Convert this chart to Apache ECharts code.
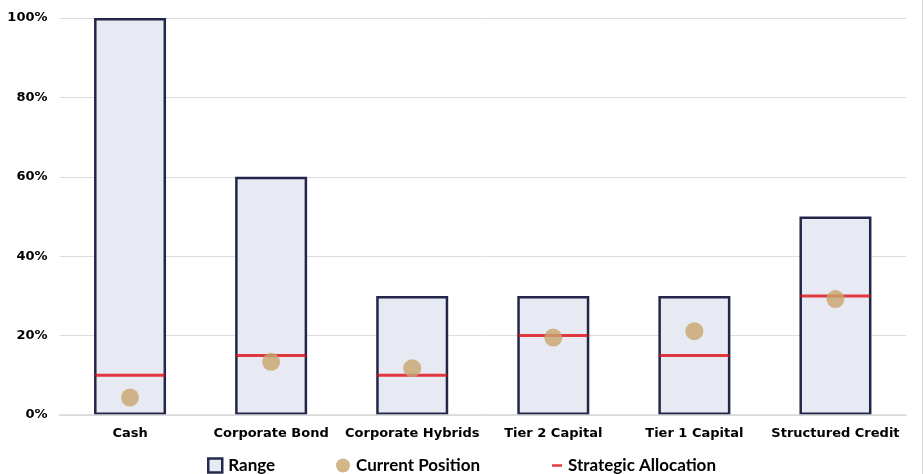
<!DOCTYPE html>
<html>
<head>
<meta charset="utf-8">
<script src="https://cdn.jsdelivr.net/npm/echarts@6/dist/echarts.min.js"></script>
<style>
  html, body { margin: 0; padding: 0; background: #fff; }
  #chart { width: 923px; height: 474px; box-sizing: border-box; border-right: 1px solid #d6d6d6; }
</style>
</head>
<body>
<div id="chart"></div>
<script>
// Asset classes and their allocation bounds (percent)
const categories = ['Cash', 'Corporate Bond', 'Corporate Hybrids', 'Tier 2 Capital', 'Tier 1 Capital', 'Structured Credit'];
const rangeMax = [100, 60, 30, 30, 30, 50];
const currentPosition = [4.4, 13.4, 11.8, 19.5, 21.1, 29.2];
const strategicAllocation = [10, 15, 10, 20, 15, 30];
const yTicks = [0, 20, 40, 60, 80, 100];

const axisFont = '"DejaVu Sans", sans-serif';
const legendFont = 'Lato, "Open Sans", sans-serif';

const legendText = { fontFamily: legendFont, fontWeight: 'bold', fontSize: 17, color: '#000', padding: [0, 0, 0, 1] };

const chart = echarts.init(document.getElementById('chart'), null, { renderer: 'canvas' });

chart.setOption({
  animation: false,
  grid: { left: 59.5, right: 16, top: 18, bottom: 59 },
  legend: [
    {
      left: 202, top: 452,
      itemWidth: 14, itemHeight: 14,
      textStyle: legendText,
      data: [{ name: 'Range', icon: 'rect', itemStyle: { color: '#e7eaf3', borderColor: '#262a4a', borderWidth: 2.5 } }]
    },
    {
      left: 331, top: 452,
      itemWidth: 14, itemHeight: 14,
      textStyle: legendText,
      data: [{ name: 'Current Position', icon: 'circle' }]
    },
    {
      left: 547, top: 452,
      itemWidth: 10, itemHeight: 14,
      textStyle: legendText,
      data: [{ name: 'Strategic Allocation', icon: 'path://M0,6 L10,6 L10,8.5 L0,8.5 Z' }]
    }
  ],
  xAxis: {
    type: 'category',
    data: categories,
    axisTick: { show: false },
    axisLine: { show: true, lineStyle: { color: '#d9d9d9', width: 1.5 } },
    z: 10,
    axisLabel: { interval: 0, fontFamily: axisFont, fontWeight: 'bold', fontSize: 13, color: '#000', margin: 12 }
  },
  yAxis: {
    type: 'value',
    min: 0,
    max: 100,
    interval: 20,
    axisLine: { show: false },
    axisTick: { show: false },
    splitLine: { lineStyle: { color: '#dcdcdc', width: 1 } },
    axisLabel: {
      fontFamily: axisFont, fontWeight: 'bold', fontSize: 13, color: '#000', margin: 12,
      formatter: v => yTicks.includes(v) ? v + '%' : ''
    }
  },
  series: [
    {
      name: 'Range',
      type: 'bar',
      data: rangeMax,
      barWidth: 72,
      itemStyle: { color: '#e7eaf3', borderColor: '#23264a', borderWidth: 2.5 },
      z: 1
    },
    {
      name: 'Strategic Allocation',
      type: 'scatter',
      data: strategicAllocation,
      symbol: 'rect',
      symbolSize: [70, 3],
      itemStyle: { color: '#e00a14' },
      z: 3
    },
    {
      name: 'Current Position',
      type: 'scatter',
      data: currentPosition,
      symbol: 'circle',
      symbolSize: 18,
      itemStyle: { color: '#c9a46c' },
      z: 4
    }
  ]
});
</script>
</body>
</html>
